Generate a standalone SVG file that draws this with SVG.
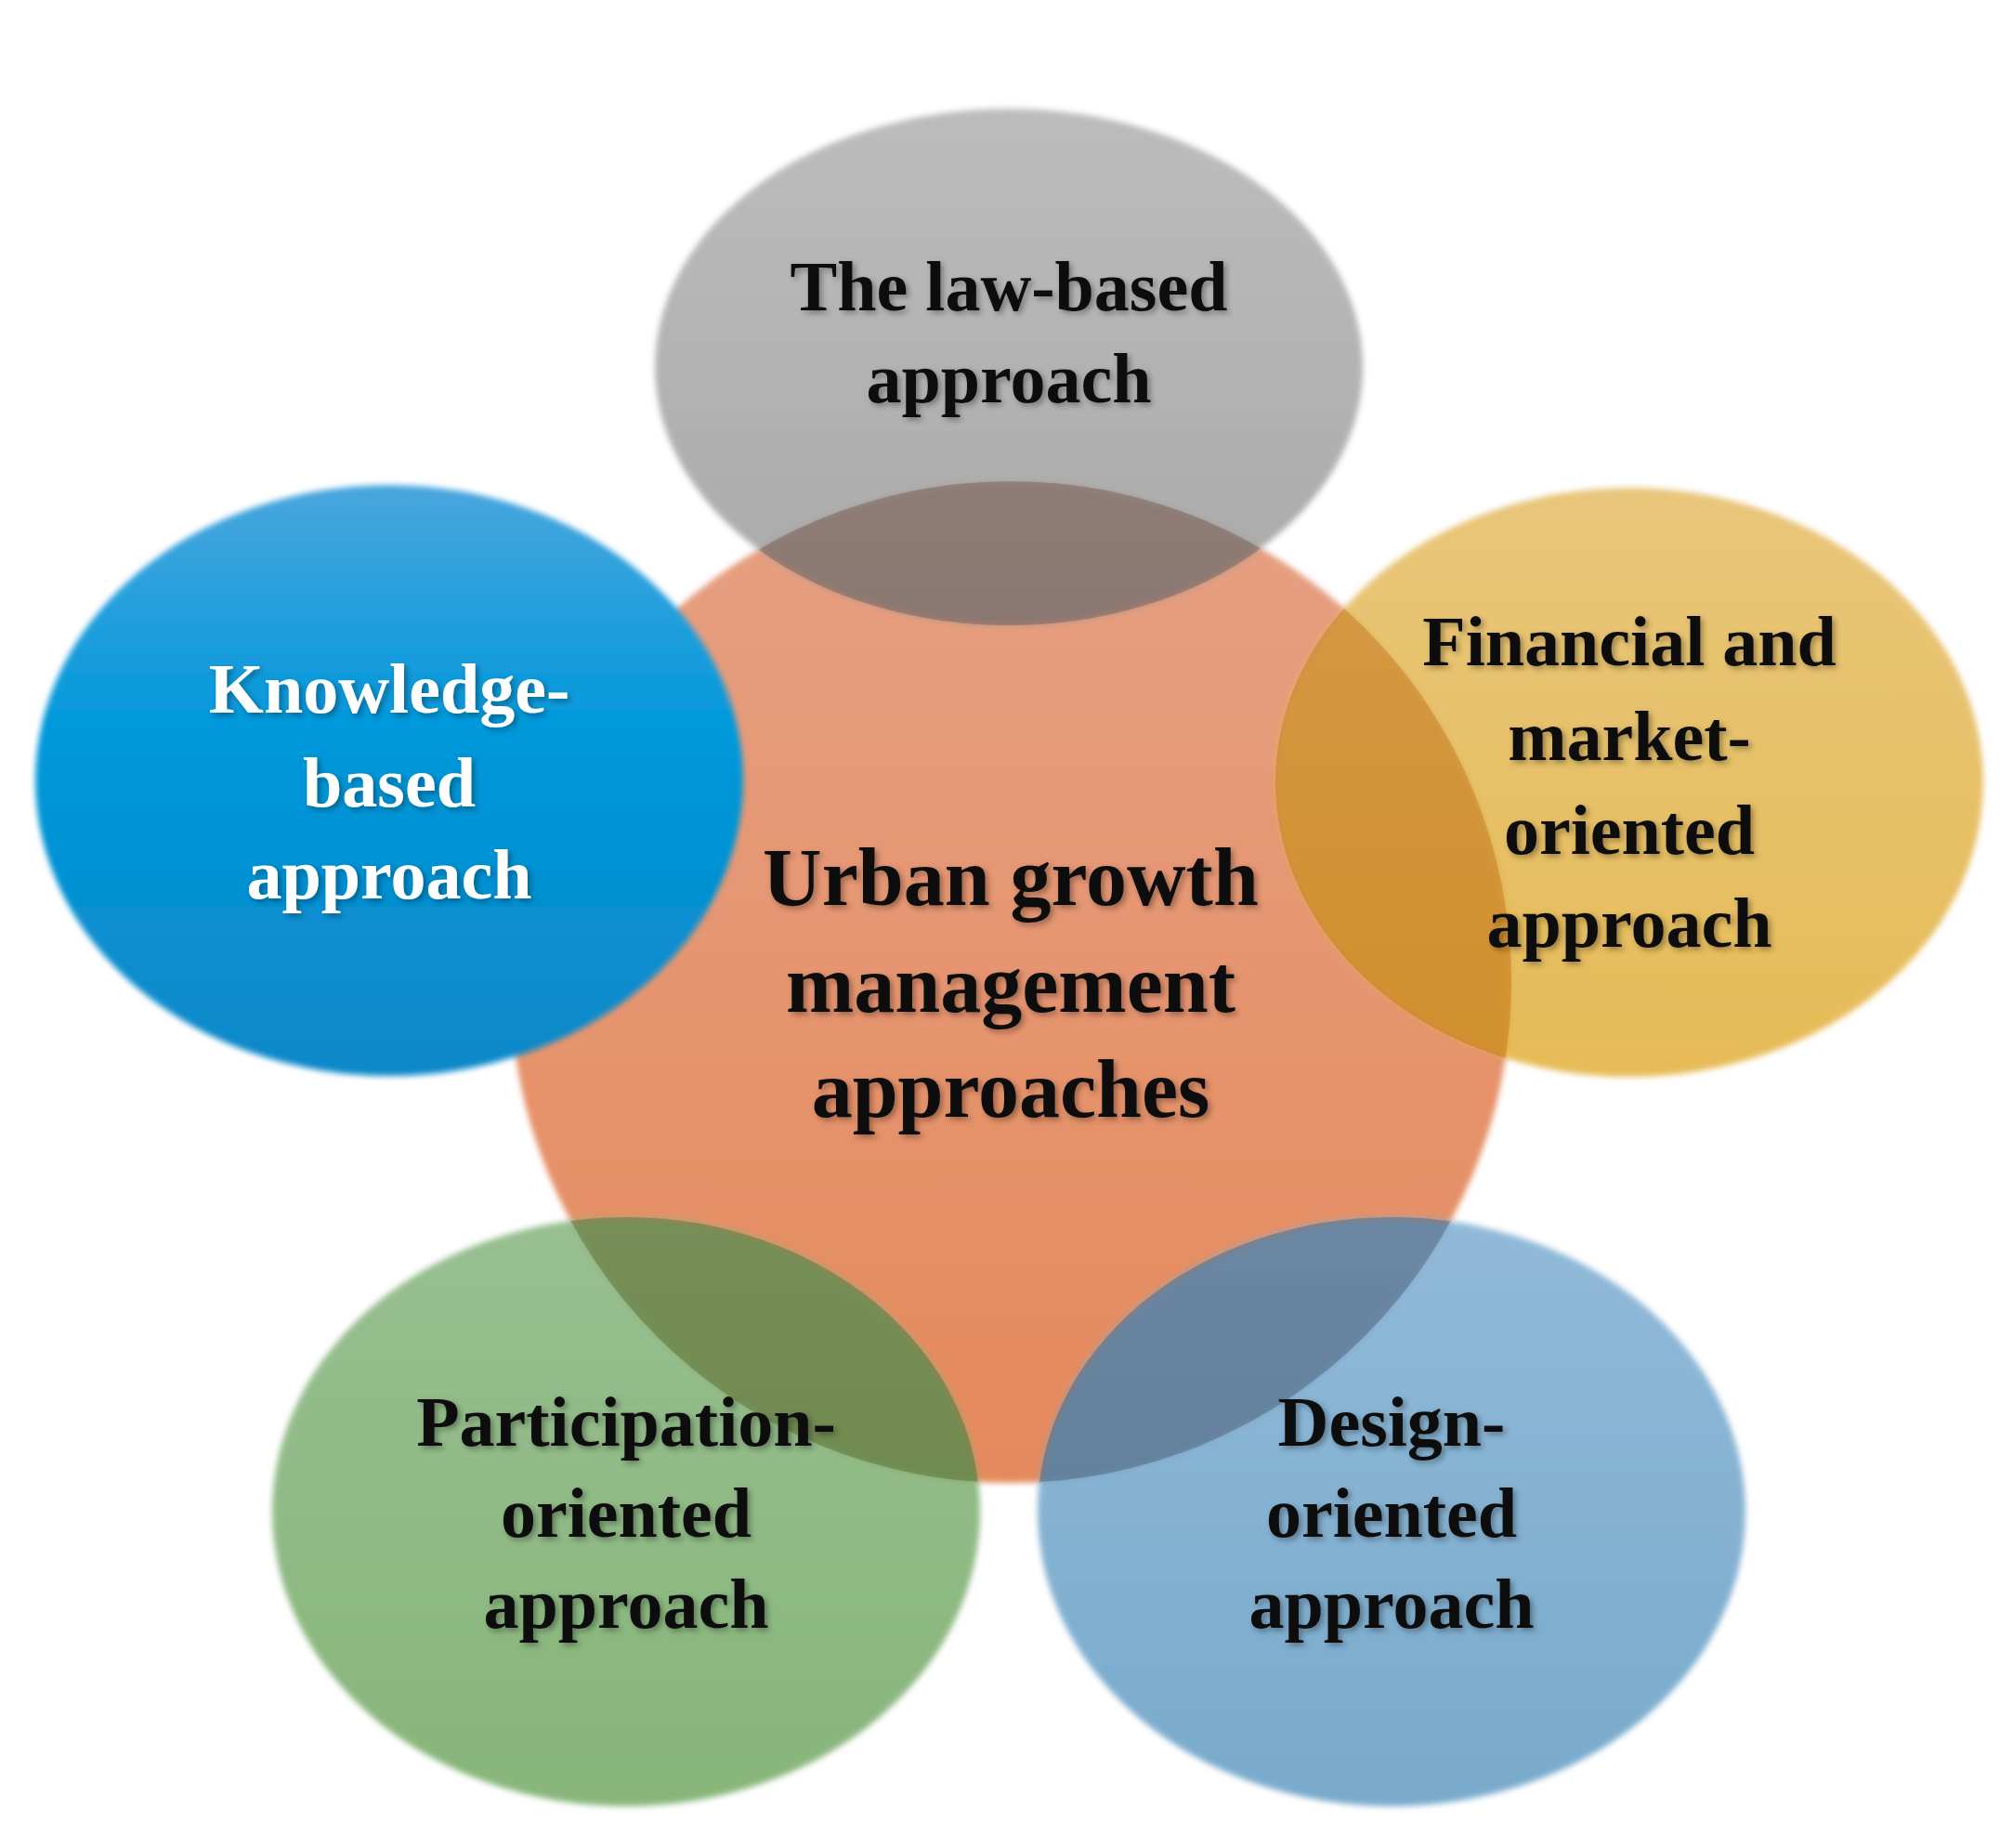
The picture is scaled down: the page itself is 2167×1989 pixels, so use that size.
<svg xmlns="http://www.w3.org/2000/svg" width="2167" height="1989" viewBox="0 0 2167 1989">
<defs>
<style>
.t{font-family:"Liberation Serif","DejaVu Serif",serif;font-weight:bold;text-anchor:middle;fill:#111;filter:url(#ts)}
.s{font-size:76px}
.c{font-size:88px}
</style>
<filter id="ts" x="-10%" y="-30%" width="120%" height="160%"><feDropShadow dx="3" dy="3" stdDeviation="3" flood-color="#000" flood-opacity="0.35"/></filter>
<filter id="soft" x="-10%" y="-10%" width="120%" height="120%"><feGaussianBlur stdDeviation="3"/></filter>
<linearGradient id="gb" x1="0" y1="0" x2="0" y2="1"><stop offset="0" stop-color="#4aa6dd"/><stop offset="0.4" stop-color="#0399dc"/><stop offset="1" stop-color="#0a88c8"/></linearGradient>
<linearGradient id="gc" x1="0" y1="0" x2="0" y2="1"><stop offset="0" stop-color="#e6a083"/><stop offset="1" stop-color="#e58a5c"/></linearGradient>
<linearGradient id="gg" x1="0" y1="0" x2="0" y2="1"><stop offset="0" stop-color="#acacac"/><stop offset="1" stop-color="#959595"/></linearGradient>
<linearGradient id="go" x1="0" y1="0" x2="0" y2="1"><stop offset="0" stop-color="#e4bc64"/><stop offset="1" stop-color="#e2b03a"/></linearGradient>
<linearGradient id="gn" x1="0" y1="0" x2="0" y2="1"><stop offset="0" stop-color="#86b47e"/><stop offset="1" stop-color="#74a964"/></linearGradient>
<linearGradient id="gd" x1="0" y1="0" x2="0" y2="1"><stop offset="0" stop-color="#7eaed2"/><stop offset="1" stop-color="#629cc3"/></linearGradient>
</defs>
<rect width="2167" height="1989" fill="#fff"/>
<g id="center"><circle cx="1088" cy="1057" r="539" fill="url(#gc)" filter="url(#soft)"/></g>
<g id="law"><ellipse cx="1086" cy="395" rx="381" ry="278" fill="url(#gg)" opacity="0.8" filter="url(#soft)"/></g>
<g id="knowledge"><ellipse cx="419" cy="840" rx="381" ry="318" fill="url(#gb)" filter="url(#soft)"/></g>
<g id="financial"><ellipse cx="1754" cy="842" rx="381" ry="317" fill="url(#go)" opacity="0.85" filter="url(#soft)"/></g>
<g id="participation"><ellipse cx="674" cy="1627" rx="381" ry="317" fill="url(#gn)" opacity="0.85" filter="url(#soft)"/></g>
<g id="design"><ellipse cx="1498" cy="1627" rx="381" ry="317" fill="url(#gd)" opacity="0.85" filter="url(#soft)"/></g>
<g id="overlaps" style="mix-blend-mode:multiply" opacity="0.35">
<clipPath id="cc"><circle cx="1088" cy="1057" r="539"/></clipPath>
<g clip-path="url(#cc)">
<ellipse cx="1086" cy="395" rx="381" ry="278" fill="#8a6a60"/>
<ellipse cx="1754" cy="842" rx="381" ry="317" fill="#c88a10"/>
<ellipse cx="674" cy="1627" rx="381" ry="317" fill="#6a7a30"/>
<ellipse cx="1498" cy="1627" rx="381" ry="317" fill="#506a88"/>
</g>
</g>
<g id="connectors"/>
<g id="labels">
<text class="t c"><tspan x="1088" y="974">Urban growth</tspan><tspan x="1088" y="1089">management</tspan><tspan x="1088" y="1202">approaches</tspan></text>
<text class="t s"><tspan x="1086" y="334">The law-based</tspan><tspan x="1086" y="433">approach</tspan></text>
<text class="t s" style="fill:#fff"><tspan x="419" y="767">Knowledge-</tspan><tspan x="419" y="868">based</tspan><tspan x="419" y="967">approach</tspan></text>
<text class="t s"><tspan x="1754" y="716">Financial and</tspan><tspan x="1754" y="818">market-</tspan><tspan x="1754" y="919">oriented</tspan><tspan x="1754" y="1019">approach</tspan></text>
<text class="t s"><tspan x="674" y="1556">Participation-</tspan><tspan x="674" y="1654">oriented</tspan><tspan x="674" y="1752">approach</tspan></text>
<text class="t s"><tspan x="1498" y="1556">Design-</tspan><tspan x="1498" y="1654">oriented</tspan><tspan x="1498" y="1752">approach</tspan></text>
</g>
</svg>
